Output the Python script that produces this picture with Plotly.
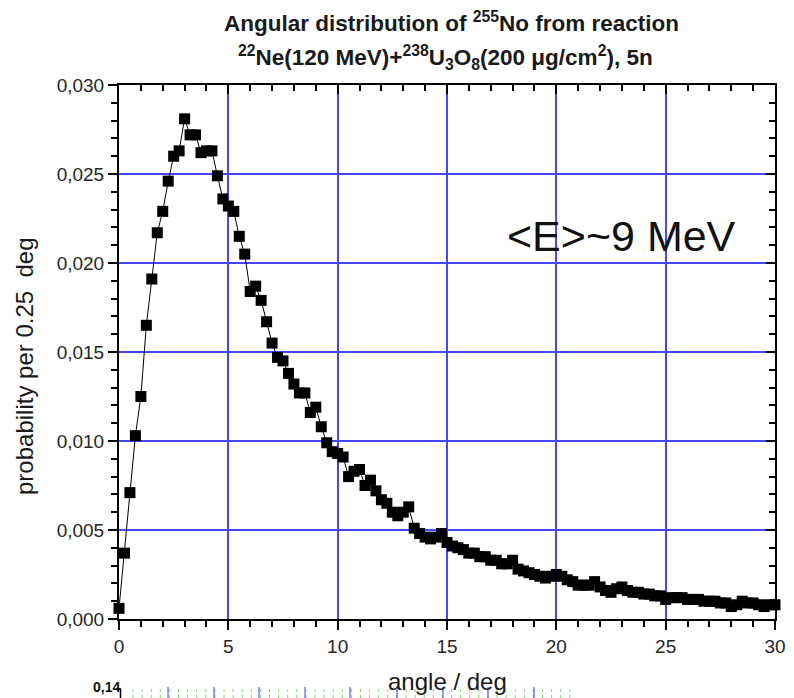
import plotly.graph_objects as go

angle_step = 0.25
n_points = 121
angles = [i * angle_step for i in range(n_points)]

probability = [
    0.0006, 0.0037, 0.0071, 0.0103, 0.0125, 0.0165, 0.0191, 0.0217, 0.0229, 0.0246,
    0.0260, 0.0263, 0.0281, 0.0272, 0.0272, 0.0262, 0.0263, 0.0263, 0.0249, 0.0236,
    0.0232, 0.0229, 0.0215, 0.0205, 0.0184, 0.0187, 0.0179, 0.0167, 0.0155, 0.0147,
    0.0145, 0.0138, 0.0132, 0.0127, 0.0127, 0.0116, 0.0119, 0.0108, 0.0099, 0.0094,
    0.0093, 0.0091, 0.0080, 0.0083, 0.0084, 0.0075, 0.0078, 0.0072, 0.0067, 0.0065,
    0.0060, 0.0058, 0.0060, 0.0063, 0.0051, 0.0048, 0.0046, 0.0045, 0.0046, 0.0048,
    0.0043, 0.0041, 0.0040, 0.0039, 0.0037, 0.0037, 0.0035, 0.0035, 0.0033, 0.0033,
    0.0031, 0.0031, 0.0033, 0.0028, 0.0027, 0.0026, 0.0025, 0.0024, 0.0023, 0.0024,
    0.0025, 0.0024, 0.0022, 0.0021, 0.0019, 0.0019, 0.0019, 0.0021, 0.0018, 0.0016,
    0.0015, 0.0017, 0.0018, 0.0016, 0.0015, 0.0015, 0.0014, 0.0014, 0.0013, 0.0013,
    0.0011, 0.0012, 0.0012, 0.0012, 0.0011, 0.0011, 0.0011, 0.0010, 0.0010, 0.0010,
    0.0009, 0.0009, 0.0007, 0.0008, 0.0010, 0.0009, 0.0009, 0.0008, 0.0007, 0.0008,
    0.0008,
]

x_ticks = [0, 5, 10, 15, 20, 25, 30]
y_ticks = [0.000, 0.005, 0.010, 0.015, 0.020, 0.025, 0.030]

title_line1 = "<b>Angular distribution of <sup>255</sup>No from reaction</b>"
title_line2 = ("<b><sup>22</sup>Ne(120 MeV)+<sup>238</sup>U<sub>3</sub>O<sub>8</sub>"
               "(200 μg/cm<sup>2</sup>), 5n</b>")
x_title = "angle / deg"
y_title = "probability per 0.25 \u00a0deg"
energy_note = "&lt;E&gt;~9 MeV"
next_label = "<b>0,14</b>"

FONT = "Liberation Sans, Arial, sans-serif"
GRID = "rgb(70,70,255)"

# The page body has an 8px margin; work in page pixels and convert.
OFF = 8
W, H = 794 - OFF, 698 - OFF
# plot area in page pixels: x 119..775, y 85..619
PX0, PX1, PY0, PY1 = 119, 775, 85, 619
L, R = PX0 - OFF, W - (PX1 - OFF)
T, B = PY0 - OFF, H - (PY1 - OFF)
PW, PH = PX1 - PX0, PY1 - PY0


def px_x(p):
    return (p - PX0) / PW


def px_y(p):
    return (PY1 - p) / PH


fig = go.Figure()
fig.add_trace(go.Scatter(
    x=angles, y=probability, mode="lines+markers",
    line=dict(color="black", width=1),
    marker=dict(symbol="square", size=11, color="black"),
    cliponaxis=False, showlegend=False,
))
# invisible trace to anchor the mirrored (inside-tick) axes
fig.add_trace(go.Scatter(
    x=angles, y=probability, xaxis="x2", yaxis="y2", mode="markers",
    marker=dict(opacity=0), hoverinfo="skip", showlegend=False,
))

tick_font = dict(family=FONT, size=19, color="#262626")

# top edge of the next (cut-off) chart below: bracket tick + dotted grid stubs
shapes = [
    dict(type="line", xref="paper", yref="paper", x0=px_x(116), x1=px_x(121),
         y0=px_y(689), y1=px_y(689), line=dict(color="black", width=1.5)),
    dict(type="line", xref="paper", yref="paper", x0=px_x(120.5), x1=px_x(120.5),
         y0=px_y(689), y1=px_y(698), line=dict(color="black", width=1.5)),
]
gx = 133.0
while gx < 570:
    shapes.append(dict(type="line", xref="paper", yref="paper", x0=px_x(gx), x1=px_x(gx),
                       y0=px_y(689), y1=px_y(698),
                       line=dict(color="rgb(120,220,120)", width=1, dash="dot")))
    gx += 9.1
for bx in [168, 214, 259, 305, 350, 397, 443, 488, 534]:
    shapes.append(dict(type="line", xref="paper", yref="paper", x0=px_x(bx), x1=px_x(bx),
                       y0=px_y(687), y1=px_y(698),
                       line=dict(color="rgb(60,60,255)", width=1)))

fig.update_layout(
    width=W, height=H,
    margin=dict(l=L, r=R, t=T, b=B),
    paper_bgcolor="white", plot_bgcolor="white",
    separators=",.",
    xaxis=dict(
        range=[0, 30], tickvals=x_ticks, ticks="outside", ticklen=9, tickwidth=2,
        tickcolor="black", showline=True, linecolor="black", linewidth=2,
        showgrid=True, gridcolor=GRID, gridwidth=1.5, zeroline=False, automargin=False,
        minor=dict(dtick=1, ticks="outside", ticklen=6, tickwidth=2, tickcolor="black", showgrid=False),
        tickfont=tick_font,
    ),
    yaxis=dict(
        range=[0, 0.030], tickvals=y_ticks, tickformat=".3f", ticks="outside", ticklen=9,
        tickwidth=2, tickcolor="black", showline=True, linecolor="black", linewidth=2,
        showgrid=True, gridcolor=GRID, gridwidth=1.5, zeroline=False, automargin=False,
        minor=dict(dtick=0.001, ticks="outside", ticklen=6, tickwidth=2, tickcolor="black", showgrid=False),
        tickfont=tick_font,
    ),
    xaxis2=dict(
        overlaying="x", side="top", anchor="y2", range=[0, 30], tickvals=x_ticks,
        ticks="inside", ticklen=9, tickwidth=2, tickcolor="black", automargin=False,
        showticklabels=False, showline=True, linecolor="black", linewidth=2,
        showgrid=False, zeroline=False,
        minor=dict(dtick=1, ticks="inside", ticklen=6, tickwidth=2, tickcolor="black"),
    ),
    yaxis2=dict(
        overlaying="y", side="right", anchor="x2", range=[0, 0.030], tickvals=y_ticks,
        ticks="inside", ticklen=9, tickwidth=2, tickcolor="black", automargin=False,
        showticklabels=False, showline=True, linecolor="black", linewidth=2,
        showgrid=False, zeroline=False,
        minor=dict(dtick=0.001, ticks="inside", ticklen=6, tickwidth=2, tickcolor="black"),
    ),
    shapes=shapes,
    annotations=[
        dict(text=title_line1, x=px_x(452), y=px_y(22), xref="paper", yref="paper",
             xanchor="center", yanchor="middle", showarrow=False,
             font=dict(family=FONT, size=22.5, color="#1a1a1a")),
        dict(text=title_line2, x=px_x(445), y=px_y(57), xref="paper", yref="paper",
             xanchor="center", yanchor="middle", showarrow=False,
             font=dict(family=FONT, size=22.5, color="#1a1a1a")),
        dict(text=x_title, x=px_x(447), y=px_y(681), xref="paper", yref="paper",
             xanchor="center", yanchor="middle", showarrow=False,
             font=dict(family=FONT, size=24, color="#1a1a1a")),
        dict(text=y_title, x=px_x(24), y=px_y(366), xref="paper", yref="paper",
             xanchor="center", yanchor="middle", textangle=-90, showarrow=False,
             font=dict(family=FONT, size=24, color="#1a1a1a")),
        dict(text=energy_note, x=px_x(621), y=px_y(236), xref="paper", yref="paper",
             xanchor="center", yanchor="middle", showarrow=False,
             font=dict(family=FONT, size=43, color="#111111")),
        dict(text=next_label, x=px_x(91), y=px_y(687), xref="paper", yref="paper",
             xanchor="left", yanchor="middle", showarrow=False,
             font=dict(family=FONT, size=14, color="#111111")),
    ],
)

fig.write_html("out.html")
